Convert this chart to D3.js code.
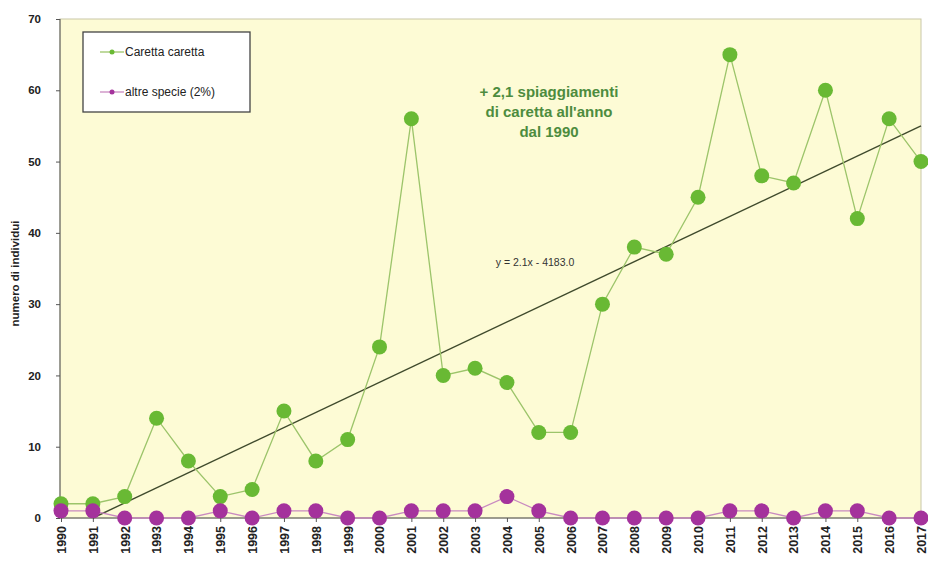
<!DOCTYPE html>
<html><head><meta charset="utf-8">
<script src="https://cdn.jsdelivr.net/npm/d3@7"></script>
<style>body{margin:0;background:#fff;font-family:"Liberation Sans",Arial,sans-serif}</style>
</head><body><svg id="c" width="928" height="563"></svg>
<script>
const years = [1990,1991,1992,1993,1994,1995,1996,1997,1998,1999,2000,2001,2002,2003,2004,2005,2006,2007,2008,2009,2010,2011,2012,2013,2014,2015,2016,2017];
const caretta = [2,2,3,14,8,3,4,15,8,11,24,56,20,21,19,12,12,30,38,37,45,65,48,47,60,42,56,50];
const altre = [1,1,0,0,0,1,0,1,1,0,0,1,1,1,3,1,0,0,0,0,0,1,1,0,1,1,0,0];
const yTicks = [0,10,20,30,40,50,60,70];
const trendYears = [1991,2017];
const trendValues = [0,55];
const seriesNames = ["Caretta caretta","altre specie (2%)"];
const yLabel = "numero di individui";
const trendLabel = "y = 2.1x - 4183.0";
const noteLines = ["+ 2,1 spiaggiamenti","di caretta all'anno","dal 1990"];

const svg = d3.select("#c");
const L=60,R=921,T=19,B=518;
const x = d3.scaleLinear().domain([1990,2017]).range([61,921]);
const y = d3.scaleLinear().domain([0,70]).range([B,T]);

svg.append("rect").attr("x",L).attr("y",T).attr("width",R-L).attr("height",B-T)
  .attr("fill","#fdfbd5").attr("stroke","#c9c7a8").attr("stroke-width",1);

// axes
const ya = svg.append("g").attr("transform",`translate(${L},0)`)
  .call(d3.axisLeft(y).tickValues(yTicks).tickSize(4).tickPadding(15).tickFormat(d3.format("d")));
ya.selectAll("text").attr("font-size",11.5).attr("font-weight","bold").attr("fill","#222").attr("font-family","Liberation Sans, Arial");
ya.selectAll("line,path").attr("stroke","#555");
ya.select(".domain").attr("d",`M0,${T}V${B}`);

const xa = svg.append("g").attr("transform",`translate(0,${B})`)
  .call(d3.axisBottom(x).tickValues(years).tickSize(4).tickFormat(d3.format("d")));
xa.select(".domain").attr("d",`M${L},0H${R}`).attr("stroke","#555");
xa.selectAll("line").attr("stroke","#555");
xa.selectAll("text").attr("font-size",12.5).attr("font-weight","bold").attr("fill","#222")
  .attr("font-family","Liberation Sans, Arial")
  .attr("transform","rotate(-90)").attr("text-anchor","end").attr("dy","0.35em").attr("x",-8).attr("y",0);

svg.append("text").attr("transform",`translate(19,${(T+B)/2+5}) rotate(-90)`).attr("text-anchor","middle")
  .attr("font-size",11.5).attr("font-weight","bold").attr("fill","#222").text(yLabel);

// trend line
const line = d3.line().x((d,i)=>x(d[0])).y(d=>y(d[1]));
svg.append("path").datum(trendYears.map((d,i)=>[d,trendValues[i]])).attr("d",line)
  .attr("stroke","#3f4a2c").attr("stroke-width",1.4).attr("fill","none");

// series
const gCol="#69b934", gLine="#9cc46a", pCol="#a4329c", pLine="#c98ac0";
svg.append("path").datum(years.map((d,i)=>[d,caretta[i]])).attr("d",line)
  .attr("stroke",gLine).attr("stroke-width",1.3).attr("fill","none");
svg.append("g").selectAll("circle").data(years).join("circle")
  .attr("cx",d=>x(d)).attr("cy",(d,i)=>y(caretta[i])).attr("r",7.5).attr("fill",gCol);
svg.append("path").datum(years.map((d,i)=>[d,altre[i]])).attr("d",line)
  .attr("stroke",pLine).attr("stroke-width",1.3).attr("fill","none");
svg.append("g").selectAll("circle").data(years).join("circle")
  .attr("cx",d=>x(d)).attr("cy",(d,i)=>y(altre[i])).attr("r",7.5).attr("fill",pCol);

// trend label
svg.append("text").attr("x",535).attr("y",266).attr("text-anchor","middle").attr("font-size",10.5)
  .attr("fill","#333").text(trendLabel);

// note
svg.append("g").selectAll("text").data(noteLines).join("text")
  .attr("x",549).attr("y",(d,i)=>97+i*20).attr("text-anchor","middle").attr("font-size",15)
  .attr("font-weight","bold").attr("fill","#4d8c3e").text(d=>d);

// legend
const lg = svg.append("g");
lg.append("rect").attr("x",83).attr("y",32).attr("width",167).attr("height",80).attr("fill","#fff")
  .attr("stroke","#444").attr("stroke-width",1.3);
[[gLine,gCol],[pLine,pCol]].forEach((c,i)=>{
  const yy = 52+i*40;
  lg.append("line").attr("x1",100).attr("x2",124).attr("y1",yy).attr("y2",yy).attr("stroke",c[0]).attr("stroke-width",1.3);
  lg.append("circle").attr("cx",112).attr("cy",yy).attr("r",2.5).attr("fill",c[1]);
  lg.append("text").attr("x",125).attr("y",yy+4).attr("font-size",12).attr("fill","#222").text(seriesNames[i]);
});
</script></body></html>
